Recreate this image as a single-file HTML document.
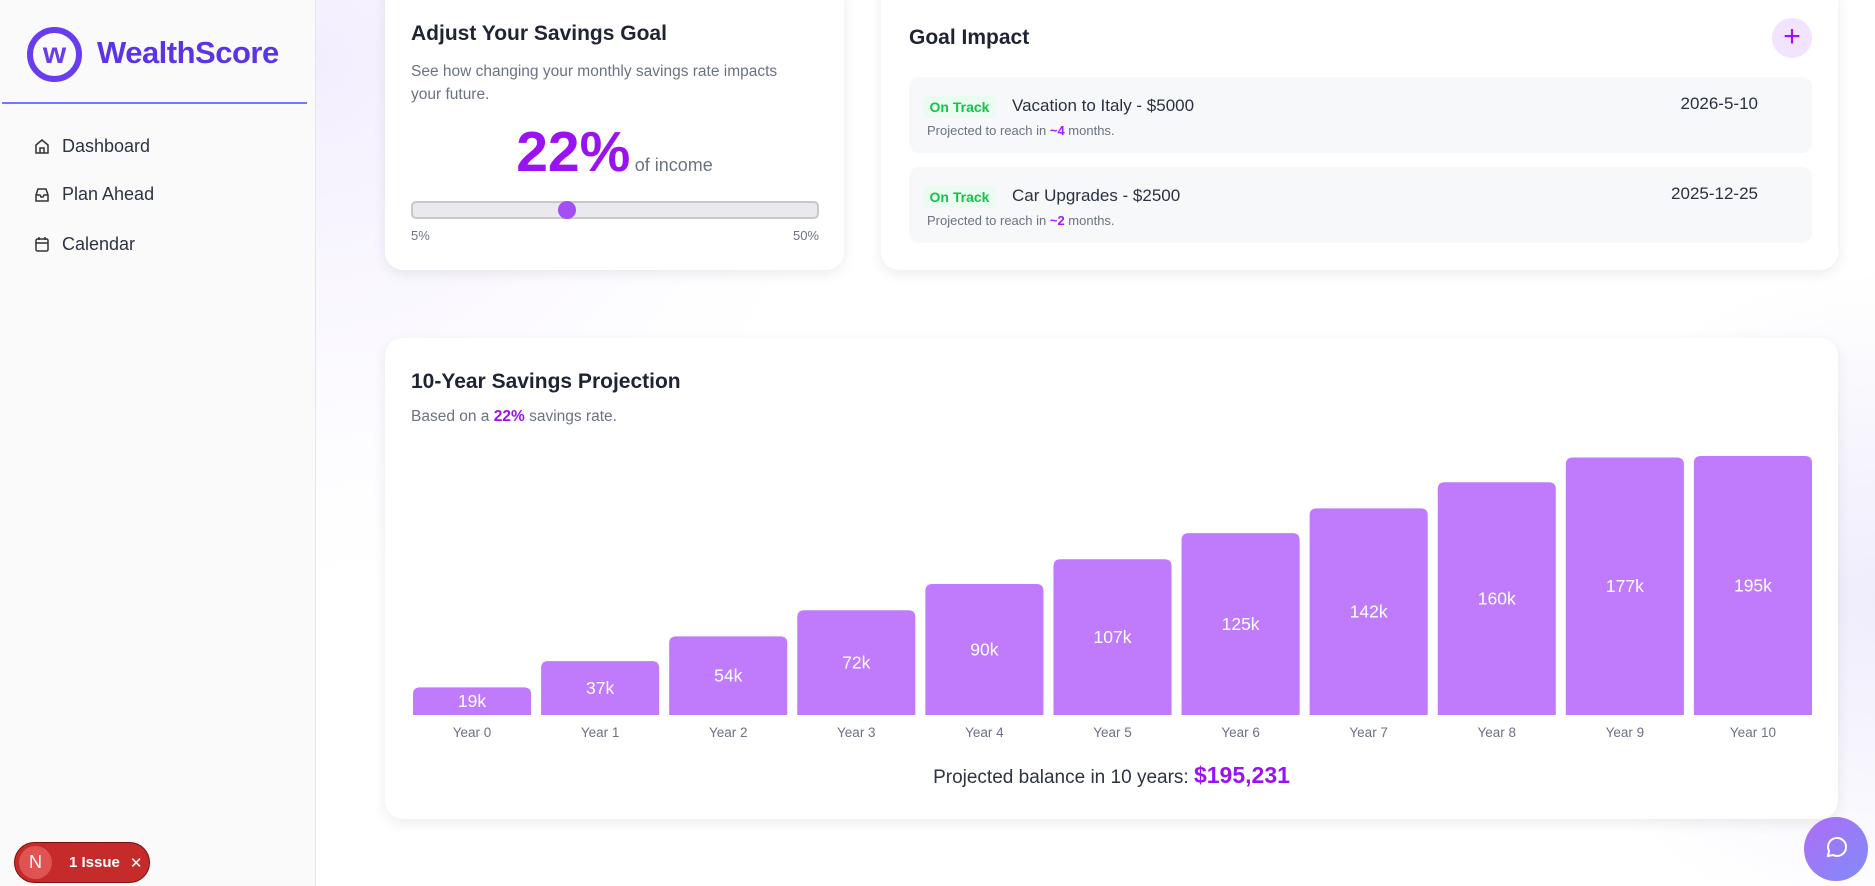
<!DOCTYPE html>
<html><head><meta charset="utf-8">
<style>
*{box-sizing:border-box;margin:0;padding:0}
body{width:1875px;height:886px;overflow:hidden;font-family:"Liberation Sans",sans-serif;background:#fff;position:relative;color:#1f2433}
.abs{position:absolute}
#main-bg{left:316px;top:0;width:1559px;height:886px;background:radial-gradient(circle at 0px 60px,#f3eefe 0,#fbf9ff 280px,#fff 520px),#fff}
#main-bg2{left:1500px;top:200px;width:375px;height:686px;background:radial-gradient(circle at 375px 400px,#efedfc 0,rgba(255,255,255,0) 330px)}
#sidebar{left:0;top:0;width:316px;height:886px;background:#fafafa;border-right:1px solid #e6e6ea}
.card{background:#fff;border-radius:18px;box-shadow:0 4px 14px rgba(0,0,0,0.08)}
.nav{left:34px;font-size:18px;color:#2d3342;display:flex;align-items:center;gap:12px}
.goal{left:909px;width:903px;height:76px;background:#f7f8fa;border-radius:10px}
.badge{position:absolute;left:14px;top:19px;width:73px;height:22px;background:#eafbef;color:#15c24a;font-weight:bold;font-size:14px;border-radius:6px;text-align:center;line-height:22px}
.gtitle{position:absolute;left:103px;top:19px;font-size:17px;color:#2a3040}
.gsub{position:absolute;left:18px;top:46px;font-size:13px;color:#6b7280}
.gsub b{color:#a11cf5}
.gdate{position:absolute;right:54px;top:17px;font-size:17px;color:#2a3040}
</style></head><body>
<div id="main-bg" class="abs"></div>
<div id="main-bg2" class="abs"></div>

<div id="sidebar" class="abs">
  <div class="abs" style="left:27px;top:27px;width:55px;height:55px;border:6px solid #6a3cf0;border-radius:50%;color:#6a3cf0;font-weight:bold;font-size:30px;text-align:center;line-height:42px">w</div>
  <div class="abs" style="left:97px;top:35px;font-size:31px;font-weight:bold;color:#5b34e6;letter-spacing:-0.5px">WealthScore</div>
  <div class="abs" style="left:2px;top:102px;width:305px;height:2px;background:#6f78ff"></div>
  <div class="abs nav" style="top:136px">
    <svg width="16" height="17" viewBox="0 0 16 17"><path d="M2 7 L8 2 L14 7 V15 H2 Z M6 15 V10 H10 V15" fill="none" stroke="#333" stroke-width="1.5"/></svg><span>Dashboard</span></div>
  <div class="abs nav" style="top:184px">
    <svg width="16" height="17" viewBox="0 0 16 17"><path d="M2 9 L4 3 H12 L14 9 V15 H2 Z M2 9 H6 L7 11 H9 L10 9 H14" fill="none" stroke="#333" stroke-width="1.5"/></svg><span>Plan Ahead</span></div>
  <div class="abs nav" style="top:234px">
    <svg width="16" height="17" viewBox="0 0 16 17"><rect x="2" y="3" width="12" height="12" rx="1.5" fill="none" stroke="#333" stroke-width="1.5"/><path d="M2 7 H14 M5 1 V4 M11 1 V4" stroke="#333" stroke-width="1.5"/></svg><span>Calendar</span></div>
  <div class="abs" style="left:14px;top:842px;width:136px;height:41px;background:#c62b2b;border-radius:21px;border:1px solid #7a1010;color:#fff;font-weight:bold;font-size:15px;display:flex;align-items:center">
    <div style="width:33px;height:33px;border-radius:50%;background:#e05353;margin-left:4px;text-align:center;line-height:33px;font-size:18px;font-weight:normal">N</div>
    <span style="margin-left:17px">1 Issue</span><span style="margin-left:10px;font-weight:normal">✕</span></div>
</div>

<div class="abs card" style="left:385px;top:-20px;width:459px;height:290px">
  <div class="abs" style="left:26px;top:42px;font-size:21px;font-weight:bold">Adjust Your Savings Goal</div>
  <div class="abs" style="left:26px;top:80px;width:395px;font-size:15.5px;line-height:23px;color:#6b7280">See how changing your monthly savings rate impacts your future.</div>
  <div class="abs" style="left:0;top:139px;width:459px;text-align:center"><span style="font-size:57px;font-weight:bold;color:#9a12f2">22%</span> <span style="font-size:18px;color:#6b7280">of income</span></div>
  <div class="abs" style="left:26px;top:221px;width:408px;height:18px;border:2px solid #c8c8cc;border-radius:5px;background:#e9e9ee"></div>
  <div class="abs" style="left:173px;top:221px;width:18px;height:18px;border-radius:50%;background:#a64ef5"></div>
  <div class="abs" style="left:26px;top:248px;font-size:13px;color:#6b7280">5%</div>
  <div class="abs" style="right:25px;top:248px;font-size:13px;color:#6b7280">50%</div>
</div>

<div class="abs card" style="left:881px;top:-20px;width:957px;height:290px">
  <div class="abs" style="left:28px;top:46px;font-size:21px;font-weight:bold">Goal Impact</div>
  <div class="abs" style="left:891px;top:38px;width:40px;height:40px;border-radius:50%;background:#f2e3ff;color:#9a12f2;font-size:30px;text-align:center;line-height:38px">+</div>
</div>
<div class="abs goal" style="top:77px">
  <div class="badge">On Track</div>
  <div class="gtitle">Vacation to Italy - $5000</div>
  <div class="gsub">Projected to reach in <b>~4</b> months.</div>
  <div class="gdate">2026-5-10</div>
</div>
<div class="abs goal" style="top:167px">
  <div class="badge">On Track</div>
  <div class="gtitle">Car Upgrades - $2500</div>
  <div class="gsub">Projected to reach in <b>~2</b> months.</div>
  <div class="gdate">2025-12-25</div>
</div>

<div class="abs card" style="left:385px;top:338px;width:1453px;height:481px">
  <div class="abs" style="left:26px;top:32px;font-size:21px;font-weight:bold">10-Year Savings Projection</div>
  <div class="abs" style="left:26px;top:70px;font-size:15.5px;color:#6b7280">Based on a <b style="color:#9a12f2">22%</b> savings rate.</div>
  <svg id="chart" class="abs" style="left:0;top:0" width="1453" height="420"></svg>
  <div class="abs" style="left:0;top:424px;width:1453px;text-align:center;font-size:19px;color:#2d3342">Projected balance in 10 years: <b style="font-size:23px;color:#9a12f2">$195,231</b></div>
</div>

<div class="abs" style="left:1804px;top:817px;width:64px;height:64px;border-radius:50%;background:linear-gradient(135deg,#b06cf7,#7f8cf8)">
  <svg width="64" height="64" viewBox="0 0 64 64"><path d="M24 39 L25 34 A9 9 0 1 1 29 38 Z" fill="none" stroke="#fff" stroke-width="2"/></svg>
</div>

<script>
const categories = ["Year 0","Year 1","Year 2","Year 3","Year 4","Year 5","Year 6","Year 7","Year 8","Year 9","Year 10"];
const values = [19000,37000,54000,72000,90000,107000,125000,142000,160000,177000,195000];
const valueLabels = ["19k","37k","54k","72k","90k","107k","125k","142k","160k","177k","195k"];
const svg = document.getElementById('chart');
const NS = 'http://www.w3.org/2000/svg';
const left = 28, right = 1437, baseline = 377, plotH = 259;
const pitch = (right - left) / categories.length;
const barW = pitch - 10;
function xScale(i){ return left + i * pitch; }
function yHeight(v){ return Math.min(v / 178000 * plotH, plotH); }
categories.forEach((c, i) => {
  const h = yHeight(values[i]);
  const x = xScale(i);
  const r = Math.min(7, h/2);
  const p = document.createElementNS(NS, 'path');
  p.setAttribute('d', `M${x},${baseline} V${baseline-h+r} Q${x},${baseline-h} ${x+r},${baseline-h} H${x+barW-r} Q${x+barW},${baseline-h} ${x+barW},${baseline-h+r} V${baseline} Z`);
  p.setAttribute('fill', '#c07bfc');
  
  
  svg.appendChild(p);
  const t = document.createElementNS(NS, 'text');
  t.setAttribute('x', x + barW/2);
  t.setAttribute('y', baseline - h/2 + 6);
  t.setAttribute('text-anchor', 'middle');
  t.setAttribute('fill', '#fff');
  t.setAttribute('font-size', '17.5');
  t.setAttribute('font-family', 'Liberation Sans, sans-serif');
  t.textContent = valueLabels[i];
  
  
  svg.appendChild(t);
  const l = document.createElementNS(NS, 'text');
  l.setAttribute('x', x + barW/2);
  l.setAttribute('y', baseline + 22);
  l.setAttribute('text-anchor', 'middle');
  l.setAttribute('fill', '#6b7280');
  l.setAttribute('font-size', '13.5');
  l.setAttribute('font-family', 'Liberation Sans, sans-serif');
  l.textContent = c;
  
  
  svg.appendChild(l);
});
</script>
</body></html>
